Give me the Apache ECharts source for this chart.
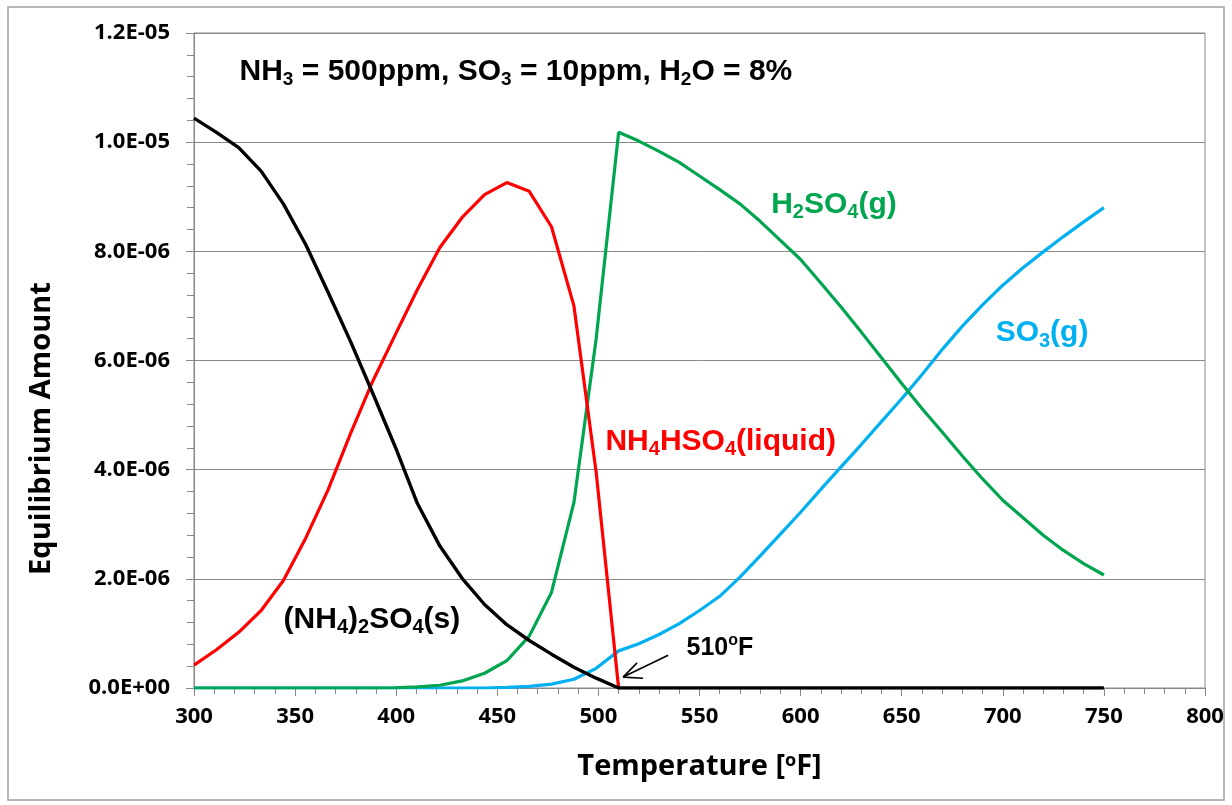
<!DOCTYPE html>
<html>
<head>
<meta charset="utf-8">
<script src="https://cdn.jsdelivr.net/npm/echarts@6/dist/echarts.min.js"></script>
<style>
html,body{margin:0;padding:0;background:#fff;}
#chart{width:1232px;height:805px;}
</style>
</head>
<body>
<div id="chart"></div>
<script>
// Temperatures (°F)
const temps = [300, 311.1, 322.1, 333.2, 344.2, 355.3, 366.3, 377.4, 388.4, 399.5,
  410.5, 421.6, 432.6, 443.7, 454.7, 465.8, 476.8, 487.9, 498.9, 510,
  520, 530, 540, 550, 560, 570, 580, 590, 600, 610, 620, 630, 640, 650,
  660, 670, 680, 690, 700, 710, 720, 730, 740, 750];
// Equilibrium amounts, in units of 1E-06
const nh42so4 = [10.44, 10.18, 9.9, 9.47, 8.87, 8.12, 7.25, 6.35, 5.4, 4.42,
  3.38, 2.6, 2.01, 1.53, 1.16, 0.87, 0.62, 0.38, 0.18, 0,
  0, 0, 0, 0, 0, 0, 0, 0, 0, 0, 0, 0, 0, 0, 0, 0, 0, 0, 0, 0, 0, 0, 0, 0];
const nh4hso4 = [0.42, 0.70, 1.02, 1.42, 1.97, 2.75, 3.63, 4.66, 5.62, 6.47,
  7.3, 8.07, 8.62, 9.04, 9.26, 9.1, 8.45, 7.0, 3.95, 0];
const h2so4 = [0, 0, 0, 0, 0, 0, 0, 0, 0, 0.005,
  0.02, 0.05, 0.13, 0.27, 0.5, 0.95, 1.75, 3.4, 6.4, 10.18,
  10.02, 9.83, 9.63, 9.38, 9.13, 8.87, 8.55, 8.2, 7.85, 7.42, 6.98, 6.52, 6.05, 5.58,
  5.12, 4.69, 4.25, 3.83, 3.44, 3.12, 2.8, 2.52, 2.28, 2.07];
const so3 = [0, 0, 0, 0, 0, 0, 0, 0, 0, 0,
  0, 0, 0, 0, 0.01, 0.03, 0.07, 0.16, 0.36, 0.68,
  0.81, 0.98, 1.18, 1.42, 1.68, 2.03, 2.42, 2.82, 3.22, 3.64, 4.05, 4.46, 4.88, 5.3,
  5.74, 6.2, 6.63, 7.02, 7.38, 7.7, 7.99, 8.27, 8.54, 8.8];
const yTickLabels = ['0.0E+00', '2.0E-06', '4.0E-06', '6.0E-06', '8.0E-06', '1.0E-05', '1.2E-05'];
const xTickLabels = ['300', '350', '400', '450', '500', '550', '600', '650', '700', '750', '800'];

const pairs = arr => arr.map((v, i) => [temps[i], v]);

const FONT = '"Liberation Sans", Arial, sans-serif';
const AXFONT = '"Open Sans", Lato, sans-serif';
const cBlack = '#000000', cRed = '#ff0000', cGreen = '#00a550', cBlue = '#00b0f0';

function richFor(color, size, subSize) {
  return {
    n: {fontFamily: FONT, fontWeight: 'bold', fontSize: size, color: color, lineHeight: size + 6},
    s: {fontFamily: FONT, fontWeight: 'bold', fontSize: subSize, color: color, lineHeight: subSize, verticalAlign: 'bottom'},
    p: {fontFamily: FONT, fontWeight: 'bold', fontSize: subSize, color: color, lineHeight: subSize, verticalAlign: 'top'}
  };
}
function mp(coord, text, color, size, subSize) {
  return {
    coord: coord, symbol: 'circle', symbolSize: 1, itemStyle: {color: 'rgba(0,0,0,0)'},
    label: {show: true, position: 'inside', formatter: text, rich: richFor(color, size, subSize)}
  };
}
// annotation arrow for 510°F (tail, tip, two head arms), in data coordinates
const arrowTip = [512.2, 0.2];
const arrowTail = [534.5, 0.6];
const arrowArm1 = [522.1, 0.18];
const arrowArm2 = [519.1, 0.46];

const chart = echarts.init(document.getElementById('chart'), null, {renderer: 'canvas'});
const option = {
  animation: false,
  backgroundColor: '#ffffff',
  graphic: [{
    type: 'rect', silent: true, z: -10,
    shape: {x: 8, y: 7, width: 1216, height: 793},
    style: {fill: 'none', stroke: '#a0a0a0', lineWidth: 1.5}
  }],
  grid: {left: 194, right: 27, top: 33, bottom: 117, show: true, borderColor: '#888', borderWidth: 1, backgroundColor: 'transparent'},
  xAxis: {
    type: 'value', min: 300, max: 800, interval: 50,
    axisLine: {lineStyle: {color: '#888', width: 1}},
    axisTick: {show: true, length: 8, lineStyle: {color: '#888'}},
    minorTick: {show: true, splitNumber: 5, length: 6, lineStyle: {color: '#888'}},
    splitLine: {show: false},
    axisLabel: {
      margin: 18, color: '#000', fontFamily: AXFONT, fontWeight: 'bold', fontSize: 22,
      formatter: v => xTickLabels[Math.round((v - 300) / 50)]
    },
    name: 'Temperature [{p|o}F]', nameLocation: 'middle', nameGap: 64,
    nameTextStyle: {
      color: '#000', fontFamily: AXFONT, fontWeight: 'bold', fontSize: 29,
      rich: {p: {fontFamily: AXFONT, fontWeight: 'bold', fontSize: 18, color: '#000', verticalAlign: 'top', lineHeight: 18}}
    }
  },
  yAxis: {
    type: 'value', min: 0, max: 12, interval: 2,
    axisLine: {show: true, lineStyle: {color: '#888', width: 1}},
    axisTick: {show: true, length: 8, lineStyle: {color: '#888'}},
    minorTick: {show: true, splitNumber: 5, length: 7, lineStyle: {color: '#888'}},
    splitLine: {show: true, lineStyle: {color: '#888', width: 1}},
    axisLabel: {
      margin: 24, color: '#000', fontFamily: AXFONT, fontWeight: 'bold', fontSize: 22,
      formatter: v => yTickLabels[Math.round(v / 2)]
    },
    name: 'Equilibrium Amount', nameLocation: 'middle', nameGap: 138,
    nameTextStyle: {color: '#000', fontFamily: AXFONT, fontWeight: 'bold', fontSize: 29, padding: [0, 136, 0, 0]}
  },
  series: [
    {
      name: 'SO3(g)', type: 'line', data: pairs(so3), showSymbol: false, symbol: 'none',
      lineStyle: {color: cBlue, width: 3.2}, itemStyle: {color: cBlue}, z: 2,
      markPoint: {silent: true, data: [mp([719.4, 6.5], '{n|SO}{s|3}{n|(g)}', cBlue, 30, 20)]}
    },
    {
      name: 'H2SO4(g)', type: 'line', data: pairs(h2so4), showSymbol: false, symbol: 'none',
      lineStyle: {color: cGreen, width: 3.2}, itemStyle: {color: cGreen}, z: 3,
      markPoint: {silent: true, data: [mp([616.5, 8.85], '{n|H}{s|2}{n|SO}{s|4}{n|(g)}', cGreen, 30, 20)]}
    },
    {
      name: 'NH4HSO4(liquid)', type: 'line', data: pairs(nh4hso4), showSymbol: false, symbol: 'none',
      lineStyle: {color: cRed, width: 3.2}, itemStyle: {color: cRed}, z: 4,
      markPoint: {silent: true, data: [mp([560.5, 4.51], '{n|NH}{s|4}{n|HSO}{s|4}{n|(liquid)}', cRed, 30, 20)]}
    },
    {
      name: '(NH4)2SO4(s)', type: 'line', data: pairs(nh42so4), showSymbol: false, symbol: 'none',
      lineStyle: {color: cBlack, width: 3.4}, itemStyle: {color: cBlack}, z: 5,
      markPoint: {silent: true, data: [
        mp([388, 1.25], '{n|(NH}{s|4}{n|)}{s|2}{n|SO}{s|4}{n|(s)}', cBlack, 30, 20),
        mp([459.2, 11.29], '{n|NH}{s|3}{n| = 500ppm, SO}{s|3}{n| = 10ppm, H}{s|2}{n|O = 8%}', cBlack, 30, 19),
        mp([560.1, 0.73], '{n|510}{p|o}{n|F}', cBlack, 25, 16)
      ]},
      markLine: {
        silent: true, symbol: ['none', 'none'],
        label: {show: false}, lineStyle: {color: '#000', width: 1.6, type: 'solid'},
        data: [
          [{coord: arrowTail}, {coord: arrowTip}],
          [{coord: arrowArm1}, {coord: arrowTip}],
          [{coord: arrowArm2}, {coord: arrowTip}]
        ]
      }
    }
  ]
};
chart.setOption(option);
</script>
</body>
</html>
